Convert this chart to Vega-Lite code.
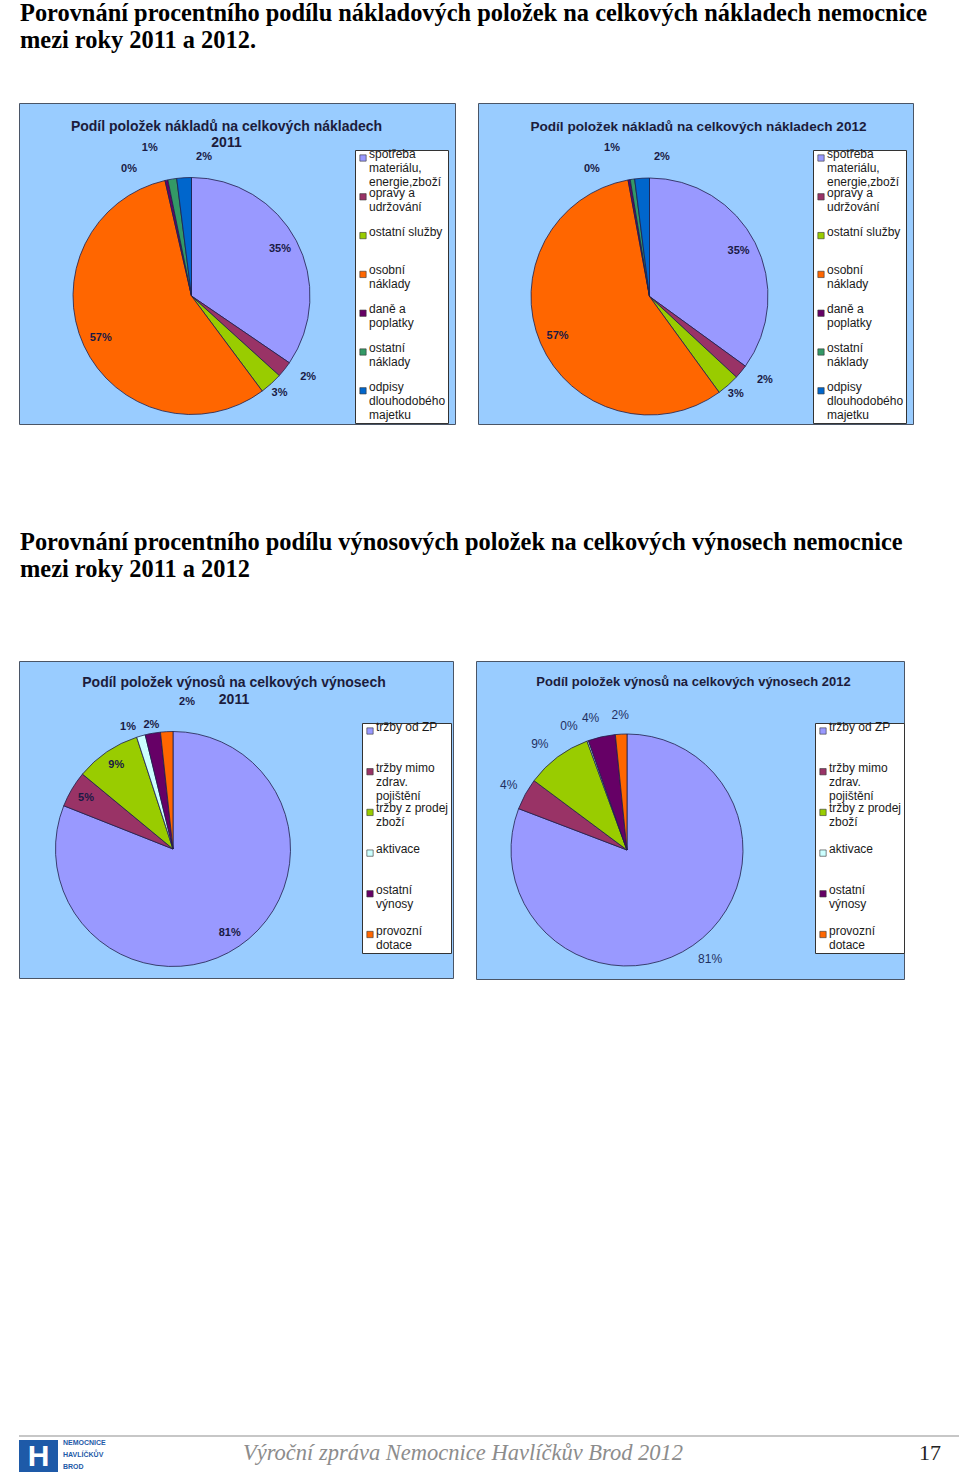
{
  "$schema": "https://vega.github.io/schema/vega-lite/v6.json",
  "background": "white",
  "padding": {"left": 18, "top": 1, "right": 0, "bottom": 0},
  "config": {
    "font": "Liberation Sans",
    "view": {"stroke": null},
    "title": {"font": "Liberation Sans", "fontWeight": "bold", "color": "#1c1c3c"},
    "text": {"font": "Liberation Sans"},
    "legend": {
      "fillColor": "white", "strokeColor": "#333333", "padding": 2,
      "symbolType": "square", "symbolSize": 40, "symbolStrokeColor": "#333333", "symbolStrokeWidth": 0.6,
      "labelFont": "Liberation Sans", "labelFontSize": 12, "labelColor": "#1a1a1a",
      "labelBaseline": "alphabetic", "labelLimit": 300, "gridAlign": "all", "labelOffset": 0
    }
  },
  "datasets": {
    "costs2011": [
      {"idx": 1, "item": "spotřeba\nmateriálu,\nenergie,zboží", "share": 0.346},
      {"idx": 2, "item": "opravy a\nudržování", "share": 0.022},
      {"idx": 3, "item": "ostatní služby", "share": 0.031},
      {"idx": 4, "item": "osobní\nnáklady", "share": 0.567},
      {"idx": 5, "item": "daně a\npoplatky", "share": 0.004},
      {"idx": 6, "item": "ostatní\nnáklady", "share": 0.012},
      {"idx": 7, "item": "odpisy\ndlouhodobého\nmajetku", "share": 0.020}
    ],
    "costs2012": [
      {"idx": 1, "item": "spotřeba\nmateriálu,\nenergie,zboží", "share": 0.350},
      {"idx": 2, "item": "opravy a\nudržování", "share": 0.019},
      {"idx": 3, "item": "ostatní služby", "share": 0.031},
      {"idx": 4, "item": "osobní\nnáklady", "share": 0.571},
      {"idx": 5, "item": "daně a\npoplatky", "share": 0.003},
      {"idx": 6, "item": "ostatní\nnáklady", "share": 0.006},
      {"idx": 7, "item": "odpisy\ndlouhodobého\nmajetku", "share": 0.020}
    ],
    "rev2011": [
      {"idx": 1, "item": "tržby od ZP", "share": 0.810},
      {"idx": 2, "item": "tržby mimo\nzdrav.\npojištění", "share": 0.050},
      {"idx": 3, "item": "tržby z prodej\nzboží", "share": 0.090},
      {"idx": 4, "item": "aktivace", "share": 0.012},
      {"idx": 5, "item": "ostatní\nvýnosy", "share": 0.021},
      {"idx": 6, "item": "provozní\ndotace", "share": 0.017}
    ],
    "rev2012": [
      {"idx": 1, "item": "tržby od ZP", "share": 0.808},
      {"idx": 2, "item": "tržby mimo\nzdrav.\npojištění", "share": 0.044},
      {"idx": 3, "item": "tržby z prodej\nzboží", "share": 0.092},
      {"idx": 4, "item": "aktivace", "share": 0.002},
      {"idx": 5, "item": "ostatní\nvýnosy", "share": 0.038},
      {"idx": 6, "item": "provozní\ndotace", "share": 0.016}
    ]
  },
  "vconcat": [
    {
      "vconcat": [
        {
          "title": {"text": ["Porovnání procentního podílu nákladových položek na celkových nákladech nemocnice", "mezi roky 2011 a 2012."], "anchor": "start", "frame": "group", "font": "Liberation Serif", "fontSize": 24.4, "fontWeight": "bold", "color": "#000000", "lineHeight": 27, "offset": 49, "dx": 1},
          "spacing": 21,
          "resolve": {"scale": {"color": "independent", "theta": "independent"}, "legend": {"color": "independent"}},
          "hconcat": [
            {
              "width": 436, "height": 321,
              "view": {"fill": "#99CCFF", "stroke": "#4a5566", "strokeWidth": 1},
              "title": {"text": ["Podíl položek nákladů na celkových nákladech", "2011"], "offset": -47, "dx": -10.5, "fontSize": 14, "lineHeight": 16},
              "data": {"name": "costs2011"},
              "resolve": {"scale": {"theta": "independent"}},
              "layer": [
                {
                  "mark": {"type": "arc", "x": 172.5, "y": 193, "outerRadius": 118.5, "stroke": "#20204a", "strokeWidth": 0.8},
                  "encoding": {
                    "theta": {"field": "share", "type": "quantitative", "stack": true},
                    "order": {"field": "idx", "type": "quantitative"},
                    "color": {"field": "item", "type": "nominal",
                      "scale": {"domain": ["spotřeba\nmateriálu,\nenergie,zboží", "opravy a\nudržování", "ostatní služby", "osobní\nnáklady", "daně a\npoplatky", "ostatní\nnáklady", "odpisy\ndlouhodobého\nmajetku"],
                                "range": ["#9999FF", "#993366", "#99CC00", "#FF6600", "#660066", "#339966", "#0066CC"]},
                      "legend": {"orient": "none", "legendX": 336, "legendY": 47, "title": null, "rowPadding": -1.2, "labelExpr": "split(datum.label, '\\n')"}}
                  }
                },
                {
                  "mark": {"type": "text", "x": 172.5, "y": 193, "radius": 100, "fontSize": 11, "fontWeight": "bold", "color": "#1a1a44"},
                  "encoding": {"theta": {"field": "share", "type": "quantitative", "stack": true}, "order": {"field": "idx", "type": "quantitative"}, "detail": {"field": "item", "type": "nominal"},
                    "text": {"condition": {"test": "datum.idx == 1 || datum.idx == 4", "field": "share", "type": "quantitative", "format": ".0%"}, "value": ""}}
                },
                {
                  "mark": {"type": "text", "x": 172.5, "y": 193, "radius": 142, "fontSize": 11, "fontWeight": "bold", "color": "#1a1a44"},
                  "encoding": {"theta": {"field": "share", "type": "quantitative", "stack": true, "scale": {"range": [-0.06109, 6.22210]}}, "order": {"field": "idx", "type": "quantitative"}, "detail": {"field": "item", "type": "nominal"},
                    "text": {"condition": {"test": "datum.idx == 2", "field": "share", "type": "quantitative", "format": ".0%"}, "value": ""}}
                },
                {
                  "mark": {"type": "text", "x": 172.5, "y": 193, "radius": 131, "fontSize": 11, "fontWeight": "bold", "color": "#1a1a44"},
                  "encoding": {"theta": {"field": "share", "type": "quantitative", "stack": true}, "order": {"field": "idx", "type": "quantitative"}, "detail": {"field": "item", "type": "nominal"},
                    "text": {"condition": {"test": "datum.idx == 3", "field": "share", "type": "quantitative", "format": ".0%"}, "value": ""}}
                },
                {
                  "mark": {"type": "text", "x": 172.5, "y": 193, "radius": 141.5, "fontSize": 11, "fontWeight": "bold", "color": "#1a1a44"},
                  "encoding": {"theta": {"field": "share", "type": "quantitative", "stack": true, "scale": {"range": [-0.24435, 6.03884]}}, "order": {"field": "idx", "type": "quantitative"}, "detail": {"field": "item", "type": "nominal"},
                    "text": {"condition": {"test": "datum.idx == 5", "field": "share", "type": "quantitative", "format": ".0%"}, "value": ""}}
                },
                {
                  "mark": {"type": "text", "x": 172.5, "y": 193, "radius": 154, "fontSize": 11, "fontWeight": "bold", "color": "#1a1a44"},
                  "encoding": {"theta": {"field": "share", "type": "quantitative", "stack": true, "scale": {"range": [-0.11170, 6.17149]}}, "order": {"field": "idx", "type": "quantitative"}, "detail": {"field": "item", "type": "nominal"},
                    "text": {"condition": {"test": "datum.idx == 6", "field": "share", "type": "quantitative", "format": ".0%"}, "value": ""}}
                },
                {
                  "mark": {"type": "text", "x": 172.5, "y": 193, "radius": 140, "fontSize": 11, "fontWeight": "bold", "color": "#1a1a44"},
                  "encoding": {"theta": {"field": "share", "type": "quantitative", "stack": true, "scale": {"range": [0.15184, 6.43503]}}, "order": {"field": "idx", "type": "quantitative"}, "detail": {"field": "item", "type": "nominal"},
                    "text": {"condition": {"test": "datum.idx == 7", "field": "share", "type": "quantitative", "format": ".0%"}, "value": ""}}
                }
              ]
            },
            {
              "width": 435, "height": 321,
              "view": {"fill": "#99CCFF", "stroke": "#4a5566", "strokeWidth": 1},
              "title": {"text": "Podíl položek nákladů na celkových nákladech  2012", "offset": -31, "dx": 3, "fontSize": 13.6},
              "data": {"name": "costs2012"},
              "resolve": {"scale": {"theta": "independent"}},
              "layer": [
                {
                  "mark": {"type": "arc", "x": 171.5, "y": 193.5, "outerRadius": 118.5, "stroke": "#20204a", "strokeWidth": 0.8},
                  "encoding": {
                    "theta": {"field": "share", "type": "quantitative", "stack": true},
                    "order": {"field": "idx", "type": "quantitative"},
                    "color": {"field": "item", "type": "nominal",
                      "scale": {"domain": ["spotřeba\nmateriálu,\nenergie,zboží", "opravy a\nudržování", "ostatní služby", "osobní\nnáklady", "daně a\npoplatky", "ostatní\nnáklady", "odpisy\ndlouhodobého\nmajetku"],
                                "range": ["#9999FF", "#993366", "#99CC00", "#FF6600", "#660066", "#339966", "#0066CC"]},
                      "legend": {"orient": "none", "legendX": 335, "legendY": 47, "title": null, "rowPadding": -1.2, "labelExpr": "split(datum.label, '\\n')"}}
                  }
                },
                {
                  "mark": {"type": "text", "x": 171.5, "y": 193.5, "radius": 100, "fontSize": 11, "fontWeight": "bold", "color": "#1a1a44"},
                  "encoding": {"theta": {"field": "share", "type": "quantitative", "stack": true}, "order": {"field": "idx", "type": "quantitative"}, "detail": {"field": "item", "type": "nominal"},
                    "text": {"condition": {"test": "datum.idx == 1 || datum.idx == 4", "field": "share", "type": "quantitative", "format": ".0%"}, "value": ""}}
                },
                {
                  "mark": {"type": "text", "x": 171.5, "y": 193.5, "radius": 142.5, "fontSize": 11, "fontWeight": "bold", "color": "#1a1a44"},
                  "encoding": {"theta": {"field": "share", "type": "quantitative", "stack": true, "scale": {"range": [-0.06109, 6.22210]}}, "order": {"field": "idx", "type": "quantitative"}, "detail": {"field": "item", "type": "nominal"},
                    "text": {"condition": {"test": "datum.idx == 2", "field": "share", "type": "quantitative", "format": ".0%"}, "value": ""}}
                },
                {
                  "mark": {"type": "text", "x": 171.5, "y": 193.5, "radius": 130, "fontSize": 11, "fontWeight": "bold", "color": "#1a1a44"},
                  "encoding": {"theta": {"field": "share", "type": "quantitative", "stack": true}, "order": {"field": "idx", "type": "quantitative"}, "detail": {"field": "item", "type": "nominal"},
                    "text": {"condition": {"test": "datum.idx == 3", "field": "share", "type": "quantitative", "format": ".0%"}, "value": ""}}
                },
                {
                  "mark": {"type": "text", "x": 171.5, "y": 193.5, "radius": 140, "fontSize": 11, "fontWeight": "bold", "color": "#1a1a44"},
                  "encoding": {"theta": {"field": "share", "type": "quantitative", "stack": true, "scale": {"range": [-0.25133, 6.03186]}}, "order": {"field": "idx", "type": "quantitative"}, "detail": {"field": "item", "type": "nominal"},
                    "text": {"condition": {"test": "datum.idx == 5", "field": "share", "type": "quantitative", "format": ".0%"}, "value": ""}}
                },
                {
                  "mark": {"type": "text", "x": 171.5, "y": 193.5, "radius": 153, "fontSize": 11, "fontWeight": "bold", "color": "#1a1a44"},
                  "encoding": {"theta": {"field": "share", "type": "quantitative", "stack": true, "scale": {"range": [-0.10297, 6.18022]}}, "order": {"field": "idx", "type": "quantitative"}, "detail": {"field": "item", "type": "nominal"},
                    "text": {"condition": {"test": "datum.idx == 6", "field": "share", "type": "quantitative", "format": ".0%"}, "value": ""}}
                },
                {
                  "mark": {"type": "text", "x": 171.5, "y": 193.5, "radius": 140, "fontSize": 11, "fontWeight": "bold", "color": "#1a1a44"},
                  "encoding": {"theta": {"field": "share", "type": "quantitative", "stack": true, "scale": {"range": [0.15184, 6.43503]}}, "order": {"field": "idx", "type": "quantitative"}, "detail": {"field": "item", "type": "nominal"},
                    "text": {"condition": {"test": "datum.idx == 7", "field": "share", "type": "quantitative", "format": ".0%"}, "value": ""}}
                }
              ]
            }
          ]
        },
        {
          "title": {"text": ["Porovnání procentního podílu výnosových položek na celkových výnosech nemocnice", "mezi roky 2011 a 2012"], "anchor": "start", "frame": "group", "font": "Liberation Serif", "fontSize": 24.4, "fontWeight": "bold", "color": "#000000", "lineHeight": 27, "offset": 78, "dx": 1},
          "spacing": 21,
          "resolve": {"scale": {"color": "independent", "theta": "independent"}, "legend": {"color": "independent"}},
          "hconcat": [
            {
              "width": 434, "height": 317,
              "view": {"fill": "#99CCFF", "stroke": "#4a5566", "strokeWidth": 1},
              "title": {"text": ["Podíl položek výnosů na celkových výnosech", "2011"], "offset": -46, "dx": -2, "fontSize": 14, "lineHeight": 17},
              "data": {"name": "rev2011"},
              "resolve": {"scale": {"theta": "independent"}},
              "layer": [
                {
                  "mark": {"type": "arc", "x": 154, "y": 188, "outerRadius": 117.5, "stroke": "#20204a", "strokeWidth": 0.8},
                  "encoding": {
                    "theta": {"field": "share", "type": "quantitative", "stack": true},
                    "order": {"field": "idx", "type": "quantitative"},
                    "color": {"field": "item", "type": "nominal",
                      "scale": {"domain": ["tržby od ZP", "tržby mimo\nzdrav.\npojištění", "tržby z prodej\nzboží", "aktivace", "ostatní\nvýnosy", "provozní\ndotace"],
                                "range": ["#9999FF", "#993366", "#99CC00", "#CCFFFF", "#660066", "#FF6600"]},
                      "legend": {"orient": "none", "legendX": 343, "legendY": 62, "title": null, "rowPadding": 0.7, "labelExpr": "split(datum.label, '\\n')"}}
                  }
                },
                {
                  "mark": {"type": "text", "x": 154, "y": 188, "radius": 101, "fontSize": 11, "fontWeight": "bold", "color": "#1a1a44"},
                  "encoding": {"theta": {"field": "share", "type": "quantitative", "stack": true}, "order": {"field": "idx", "type": "quantitative"}, "detail": {"field": "item", "type": "nominal"},
                    "text": {"condition": {"test": "datum.idx <= 3", "field": "share", "type": "quantitative", "format": ".0%"}, "value": ""}}
                },
                {
                  "mark": {"type": "text", "x": 154, "y": 188, "radius": 130, "fontSize": 11, "fontWeight": "bold", "color": "#1a1a44"},
                  "encoding": {"theta": {"field": "share", "type": "quantitative", "stack": true, "scale": {"range": [-0.07679, 6.20640]}}, "order": {"field": "idx", "type": "quantitative"}, "detail": {"field": "item", "type": "nominal"},
                    "text": {"condition": {"test": "datum.idx == 4", "field": "share", "type": "quantitative", "format": ".0%"}, "value": ""}}
                },
                {
                  "mark": {"type": "text", "x": 154, "y": 188, "radius": 126, "fontSize": 11, "fontWeight": "bold", "color": "#1a1a44"},
                  "encoding": {"theta": {"field": "share", "type": "quantitative", "stack": true}, "order": {"field": "idx", "type": "quantitative"}, "detail": {"field": "item", "type": "nominal"},
                    "text": {"condition": {"test": "datum.idx == 5", "field": "share", "type": "quantitative", "format": ".0%"}, "value": ""}}
                },
                {
                  "mark": {"type": "text", "x": 154, "y": 188, "radius": 148, "fontSize": 11, "fontWeight": "bold", "color": "#1a1a44"},
                  "encoding": {"theta": {"field": "share", "type": "quantitative", "stack": true, "scale": {"range": [0.14835, 6.43154]}}, "order": {"field": "idx", "type": "quantitative"}, "detail": {"field": "item", "type": "nominal"},
                    "text": {"condition": {"test": "datum.idx == 6", "field": "share", "type": "quantitative", "format": ".0%"}, "value": ""}}
                }
              ]
            },
            {
              "width": 428, "height": 318,
              "view": {"fill": "#99CCFF", "stroke": "#4a5566", "strokeWidth": 1},
              "title": {"text": "Podíl položek výnosů na celkových výnosech  2012", "offset": -28, "dx": 3.5, "fontSize": 13},
              "data": {"name": "rev2012"},
              "resolve": {"scale": {"theta": "independent"}},
              "layer": [
                {
                  "mark": {"type": "arc", "x": 151, "y": 189, "outerRadius": 116, "stroke": "#20204a", "strokeWidth": 0.8},
                  "encoding": {
                    "theta": {"field": "share", "type": "quantitative", "stack": true},
                    "order": {"field": "idx", "type": "quantitative"},
                    "color": {"field": "item", "type": "nominal",
                      "scale": {"domain": ["tržby od ZP", "tržby mimo\nzdrav.\npojištění", "tržby z prodej\nzboží", "aktivace", "ostatní\nvýnosy", "provozní\ndotace"],
                                "range": ["#9999FF", "#993366", "#99CC00", "#CCFFFF", "#660066", "#FF6600"]},
                      "legend": {"orient": "none", "legendX": 339, "legendY": 62, "title": null, "rowPadding": 0.7, "labelExpr": "split(datum.label, '\\n')"}}
                  }
                },
                {
                  "mark": {"type": "text", "x": 151, "y": 189, "radius": 135, "fontSize": 12, "color": "#1f2f5f"},
                  "encoding": {"theta": {"field": "share", "type": "quantitative", "stack": true}, "order": {"field": "idx", "type": "quantitative"}, "detail": {"field": "item", "type": "nominal"},
                    "text": {"condition": {"test": "datum.idx == 2 || datum.idx == 6", "field": "share", "type": "quantitative", "format": ".0%"}, "value": ""}}
                },
                {
                  "mark": {"type": "text", "x": 151, "y": 189, "radius": 137, "fontSize": 12, "color": "#1f2f5f"},
                  "encoding": {"theta": {"field": "share", "type": "quantitative", "stack": true, "scale": {"range": [-0.04887, 6.23432]}}, "order": {"field": "idx", "type": "quantitative"}, "detail": {"field": "item", "type": "nominal"},
                    "text": {"condition": {"test": "datum.idx == 1 || datum.idx == 3 || datum.idx == 5", "field": "share", "type": "quantitative", "format": ".0%"}, "value": ""}}
                },
                {
                  "mark": {"type": "text", "x": 151, "y": 189, "radius": 137, "fontSize": 12, "color": "#1f2f5f"},
                  "encoding": {"theta": {"field": "share", "type": "quantitative", "stack": true, "scale": {"range": [-0.09250, 6.19069]}}, "order": {"field": "idx", "type": "quantitative"}, "detail": {"field": "item", "type": "nominal"},
                    "text": {"condition": {"test": "datum.idx == 4", "field": "share", "type": "quantitative", "format": ".0%"}, "value": ""}}
                }
              ]
            }
          ]
        }
      ],
      "spacing": 105,
      "resolve": {"scale": {"color": "independent", "theta": "independent"}, "legend": {"color": "independent"}}
    },
    {
      "width": 922, "height": 39,
      "data": {"values": [{"main": "Výroční zpráva Nemocnice Havlíčkův Brod 2012", "page": "17", "logo": "H"}]},
      "layer": [
        {"mark": {"type": "rule", "color": "#b5b5b5", "strokeWidth": 1.5},
         "encoding": {"x": {"value": 0}, "x2": {"value": 940}, "y": {"value": 0}}},
        {"mark": {"type": "rect", "color": "#1e5aa8"},
         "encoding": {"x": {"value": 0}, "x2": {"value": 39}, "y": {"value": 4}, "y2": {"value": 36}}},
        {"mark": {"type": "text", "fontSize": 30, "fontWeight": "bold", "color": "white"},
         "encoding": {"x": {"value": 19.5}, "y": {"value": 21}, "text": {"field": "logo"}}},
        {"mark": {"type": "text", "fontSize": 7, "fontWeight": "bold", "color": "#1e5aa8", "align": "left", "baseline": "middle", "lineHeight": 12},
         "encoding": {"x": {"value": 44}, "y": {"value": 7}, "text": {"value": ["NEMOCNICE", "HAVLÍČKŮV", "BROD"]}}},
        {"mark": {"type": "text", "font": "Liberation Serif", "fontStyle": "italic", "fontSize": 22.5, "color": "#8c8c8c"},
         "encoding": {"x": {"value": 444}, "y": {"value": 17}, "text": {"field": "main"}}},
        {"mark": {"type": "text", "font": "Liberation Serif", "fontSize": 22, "color": "#222222", "align": "right"},
         "encoding": {"x": {"value": 922}, "y": {"value": 17}, "text": {"field": "page"}}}
      ]
    }
  ],
  "spacing": 447,
  "resolve": {"scale": {"color": "independent", "theta": "independent"}, "legend": {"color": "independent"}}
}
